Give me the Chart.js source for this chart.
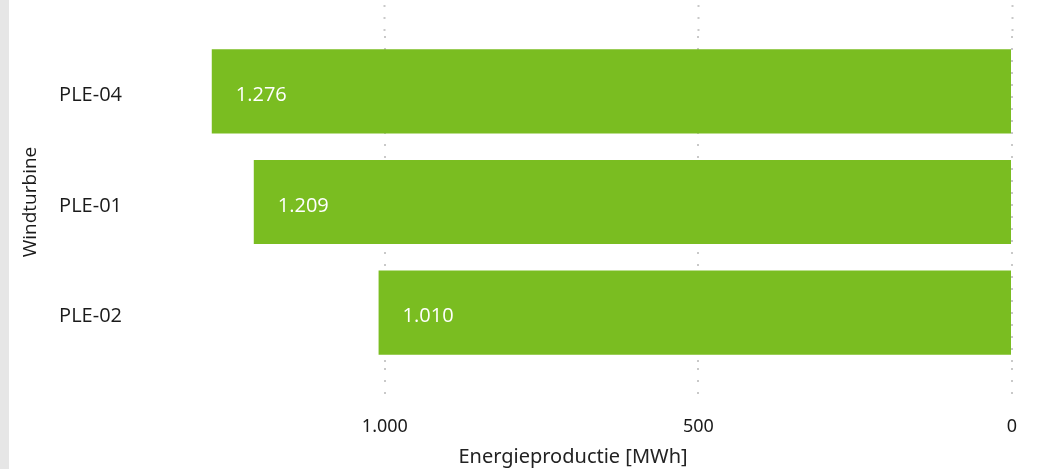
<!DOCTYPE html>
<html>
<head>
<meta charset="utf-8">
<script src="https://cdn.jsdelivr.net/npm/chart.js@4/dist/chart.umd.min.js"></script>
<style>
    html, body { margin: 0; padding: 0; background: #fff; }
    .wrap {
        position: absolute;
        left: 0;
        top: 0;
        width: 1028px;
        height: 469px;
        border-left: 9px solid #e6e6e6;
    }
</style>
</head>
<body>
<div class="wrap"><canvas id="chart"></canvas></div>
<script>
const turbines = ["PLE-04", "PLE-01", "PLE-02"];
const production = [1276, 1209, 1010];
const xTicks = [0, 500, 1000];

const GREEN = "#7abd21";
const DOTS = "#c9c9c9";

// 1276 -> "1.276"
const formatNl = (v) => String(Math.round(v)).replace(/\B(?=(\d{3})+(?!\d))/g, ".");

// white value text at the outer end of every bar
const barValues = {
    id: "barValues",
    afterDatasetsDraw(chart) {
        const ctx = chart.ctx;
        const meta = chart.getDatasetMeta(0);
        ctx.save();
        ctx.fillStyle = "#ffffff";
        ctx.font = "20px 'Open Sans'";
        ctx.textAlign = "left";
        ctx.textBaseline = "middle";
        meta.data.forEach((bar, i) => {
            ctx.fillText(formatNl(production[i]), bar.x + 24, bar.y + 4);
        });
        ctx.restore();
    },
};

new Chart(document.getElementById("chart"), {
    type: "bar",
    data: {
        labels: turbines,
        datasets: [
            {
                data: production,
                backgroundColor: GREEN,
                borderWidth: 0,
                barPercentage: 0.76,
                categoryPercentage: 1,
            },
        ],
    },
    options: {
        indexAxis: "y",
        responsive: true,
        maintainAspectRatio: false,
        animation: false,
        layout: { padding: { top: 0, right: 25, bottom: 0, left: 0 } },
        plugins: {
            legend: { display: false },
            tooltip: { enabled: false },
        },
        scales: {
            x: {
                position: "bottom",
                reverse: true,
                min: 0,
                max: 1400,
                afterBuildTicks: (scale) => {
                    scale.ticks = xTicks.map((v) => ({ value: v }));
                },
                afterFit: (scale) => {
                    scale.height = 101;
                },
                grid: {
                    color: DOTS,
                    lineWidth: 2,
                    tickLength: 35,
                    tickColor: DOTS,
                    tickWidth: 2,
                    tickBorderDash: [2, 10],
                    tickBorderDashOffset: 0,
                },
                border: { display: false, dash: [2, 10], dashOffset: 0 },
                ticks: {
                    color: "#1a1a1a",
                    padding: 13,
                    font: { family: "'Noto Sans'", size: 18 },
                    callback: (v) => formatNl(v),
                },
                title: {
                    display: true,
                    text: "Energieproductie [MWh]",
                    color: "#222",
                    font: { family: "'Noto Sans'", size: 20 },
                    padding: { top: 0, bottom: 0 },
                },
            },
            // only carries the dotted lines up to the top edge
            xTop: {
                axis: "x",
                position: "top",
                reverse: true,
                min: 0,
                max: 1400,
                afterBuildTicks: (scale) => {
                    scale.ticks = xTicks.map((v) => ({ value: v }));
                },
                grid: {
                    drawOnChartArea: false,
                    tickLength: 36,
                    tickColor: DOTS,
                    tickWidth: 2,
                    tickBorderDash: [2, 10],
                    tickBorderDashOffset: 7,
                },
                border: { display: false },
                ticks: { display: false },
            },
            y: {
                afterFit: (scale) => {
                    scale.width = 125;
                },
                grid: { display: false, drawTicks: false },
                border: { display: false },
                ticks: {
                    color: "#1a1a1a",
                    padding: 12,
                    labelOffset: 4,
                    font: { family: "'Open Sans'", size: 20 },
                },
                title: {
                    display: true,
                    text: "Windturbine",
                    color: "#1a1a1a",
                    font: { family: "'Open Sans'", size: 19 },
                    padding: { top: 10, bottom: 0 },
                },
            },
        },
    },
    plugins: [barValues],
});
</script>
</body>
</html>
